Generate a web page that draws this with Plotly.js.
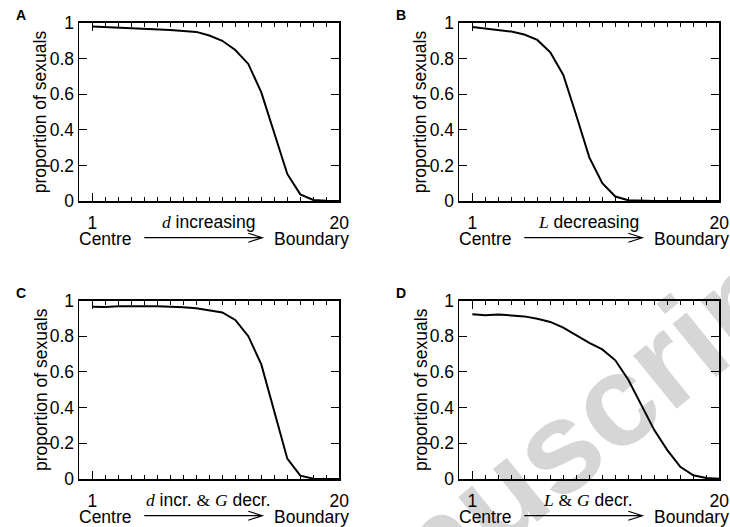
<!DOCTYPE html>
<html>
<head>
<meta charset="utf-8">
<script src="https://cdn.plot.ly/plotly-3.0.1.min.js"></script>
<style>
  body { margin: 0; background: #fff; }
  #wm, #chart { position: absolute; left: 0; top: 0; width: 730px; height: 527px; }
</style>
</head>
<body>
<div id="wm"></div>
<div id="chart"></div>
<script>
// ---------- data ----------
const positions = [1,2,3,4,5,6,7,8,9,10,11,12,13,14,15,16,17,18,19,20];
const sexualsA = [0.98,0.977,0.975,0.972,0.968,0.965,0.96,0.955,0.95,0.93,0.90,0.848,0.77,0.61,0.38,0.152,0.037,0.006,0.001,0];
const sexualsB = [0.978,0.97,0.962,0.952,0.935,0.905,0.835,0.708,0.48,0.245,0.10,0.025,0.004,0.001,0,0,0,0,0,0];
const sexualsC = [0.965,0.964,0.968,0.97,0.968,0.968,0.966,0.962,0.957,0.946,0.933,0.891,0.80,0.642,0.38,0.114,0.019,0.002,0,0];
const sexualsD = [0.923,0.918,0.922,0.918,0.911,0.898,0.88,0.848,0.805,0.763,0.726,0.665,0.556,0.415,0.274,0.162,0.068,0.021,0.006,0.002];
const panelLetters = ['A','B','C','D'];
const serif = "font-family:'Liberation Serif','Times New Roman',serif";
const captions = [
  `<span style="${serif}"><i>d</i></span> increasing`,
  `<span style="${serif}"><i>L</i></span> decreasing`,
  `<span style="${serif}"><i>d</i></span> incr. <span style="${serif}">&amp;</span> <span style="${serif}"><i>G</i></span> decr.`,
  `<span style="${serif}"><i>L</i></span> <span style="${serif}">&amp;</span> <span style="${serif}"><i>G</i></span> decr.`
];
const yTitle = 'proportion of sexuals';
const leftLabel = 'Centre';
const rightLabel = 'Boundary';
const xTickVals = [1,20];
const xTickText = ['1','20'];
const xMinorVals = [2,3,4,5,6,7,8,9,10,11,12,13,14,15,16,17,18,19];
const yTickVals = [0,0.2,0.4,0.6,0.8,1];
const yTickText = ['0','0.2','0.4','0.6','0.8','1'];
const watermark = 'Manuscript';

// ---------- layout geometry (pixels) ----------
const W = 730, H = 527;
const boxes = [
  {x0:79.3,  x1:339.3, y0:23,    y1:201},
  {x0:459.3, x1:719.3, y0:23,    y1:201},
  {x0:79.3,  x1:339.3, y0:300.5, y1:479},
  {x0:459.3, x1:719.3, y0:300.5, y1:479}
];
const series = [sexualsA, sexualsB, sexualsC, sexualsD];
const px = v => v / W;
const py = v => 1 - v / H;
const FONT = "'Liberation Sans', Arial, Helvetica, sans-serif";
const FS = 17.5;

const traces = [];
const layout = {
  width: W, height: H,
  margin: {l:0, r:0, t:0, b:0},
  paper_bgcolor: 'rgba(0,0,0,0)',
  plot_bgcolor: 'rgba(0,0,0,0)',
  showlegend: false,
  font: {family: FONT, size: FS, color: '#000'},
  annotations: [],
  shapes: []
};

boxes.forEach((b, i) => {
  const n = i + 1;
  const xa = 'xaxis' + (n === 1 ? '' : n);
  const ya = 'yaxis' + (n === 1 ? '' : n);
  traces.push({
    x: positions, y: series[i], type: 'scatter', mode: 'lines',
    xaxis: 'x' + (n === 1 ? '' : n), yaxis: 'y' + (n === 1 ? '' : n),
    line: {color: '#000', width: 2}, hoverinfo: 'skip'
  });
  layout[xa] = {
    domain: [px(b.x0), px(b.x1)], anchor: 'y' + (n === 1 ? '' : n),
    range: [0, 20], showgrid: false, zeroline: false,
    showline: true, linecolor: '#000', linewidth: 1.8, mirror: 'ticks',
    ticks: 'inside', ticklen: 8, tickwidth: 1.2, tickcolor: '#000',
    tickmode: 'array', tickvals: xTickVals, ticktext: xTickText,
    ticklabelstandoff: 5,
    tickfont: {family: FONT, size: FS, color: '#000'},
    minor: {tickmode: 'array', tickvals: xMinorVals, ticks: 'inside', ticklen: 4, tickwidth: 1.2, tickcolor: '#000', showgrid: false},
    fixedrange: true
  };
  layout[ya] = {
    domain: [py(b.y1), py(b.y0)], anchor: 'x' + (n === 1 ? '' : n),
    range: [0, 1], showgrid: false, zeroline: false,
    showline: true, linecolor: '#000', linewidth: 1.8, mirror: 'ticks',
    ticks: 'inside', ticklen: 8, tickwidth: 1.2, tickcolor: '#000',
    tickmode: 'array', tickvals: yTickVals, ticktext: yTickText,
    tickfont: {family: FONT, size: FS, color: '#000'},
    fixedrange: true
  };
  const base = {xref: 'paper', yref: 'paper', showarrow: false, font: {family: FONT, size: FS, color: '#000'}};
  layout.annotations.push(Object.assign({}, base, {
    text: panelLetters[i], x: px(b.x0 - 58.3), y: py(b.y0 - 8),
    xanchor: 'center', yanchor: 'middle',
    font: {family: FONT, size: 14, color: '#000', weight: 'bold'}
  }));
  layout.annotations.push(Object.assign({}, base, {
    text: yTitle, x: px(b.x0 - 39), y: py((b.y0 + b.y1) / 2),
    xanchor: 'center', yanchor: 'middle', textangle: -90
  }));
  layout.annotations.push(Object.assign({}, base, {
    text: captions[i], x: px(b.x0 + 128.7), y: py(b.y1 + 20.6),
    xanchor: 'center', yanchor: 'middle'
  }));
  layout.annotations.push(Object.assign({}, base, {
    text: leftLabel, x: px(b.x0 + 26.5), y: py(b.y1 + 37.5),
    xanchor: 'center', yanchor: 'middle'
  }));
  layout.annotations.push(Object.assign({}, base, {
    text: rightLabel, x: px(b.x0 + 232), y: py(b.y1 + 37.5),
    xanchor: 'center', yanchor: 'middle'
  }));
  const ax0 = b.x0 + 65, ax1 = b.x0 + 183, ay = b.y1 + 36.7;
  layout.shapes.push({
    type: 'path', xref: 'paper', yref: 'paper',
    path: `M ${px(ax0)},${py(ay)} L ${px(ax1)},${py(ay)} M ${px(ax1 - 14)},${py(ay - 4.5)} L ${px(ax1)},${py(ay)} L ${px(ax1 - 14)},${py(ay + 4.5)}`,
    line: {color: '#000', width: 1.2}
  });
});

// background watermark layer (drawn under the chart)
Plotly.newPlot('wm', [], {
  width: W, height: H, margin: {l:0, r:0, t:0, b:0},
  paper_bgcolor: '#fff', plot_bgcolor: '#fff',
  xaxis: {visible: false}, yaxis: {visible: false},
  annotations: [{
    text: watermark, xref: 'paper', yref: 'paper', x: px(534.5), y: py(466.4),
    xanchor: 'center', yanchor: 'middle', showarrow: false, textangle: -39,
    font: {family: FONT, size: 130, color: '#d6d6d6', weight: 'bold'}
  }]
}, {staticPlot: true, displayModeBar: false});

Plotly.newPlot('chart', traces, layout, {staticPlot: true, displayModeBar: false});
</script>
</body>
</html>
